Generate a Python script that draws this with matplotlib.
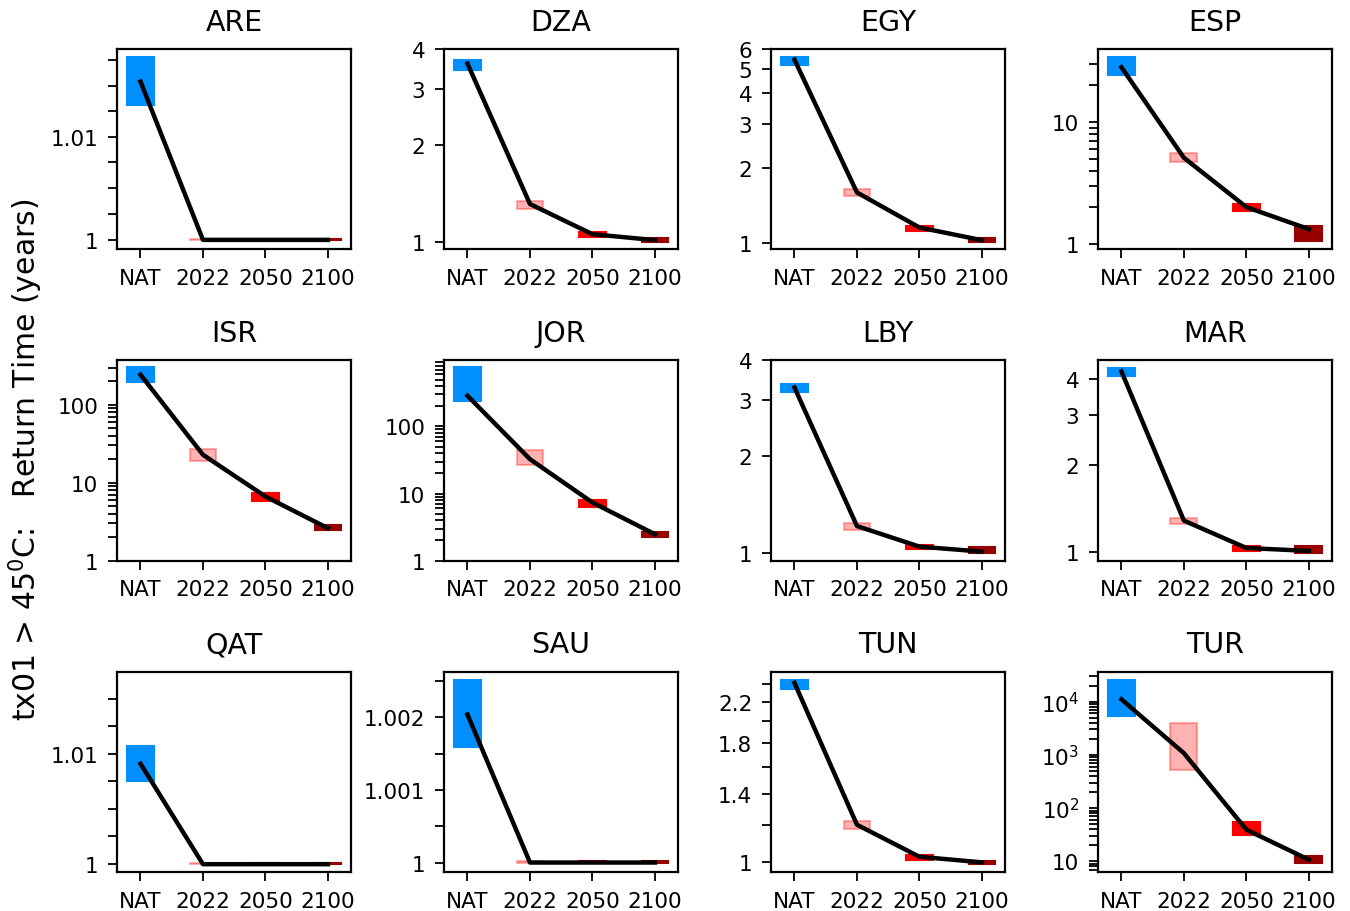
import numpy as np
import matplotlib
matplotlib.use("Agg")
import matplotlib.pyplot as plt
from matplotlib.patches import Rectangle
from matplotlib.ticker import LogLocator, NullFormatter

# 国家 / 时期
countries = ["ARE", "DZA", "EGY", "ESP", "ISR", "JOR", "LBY", "MAR", "QAT", "SAU", "TUN", "TUR"]
periods = ["NAT", "2022", "2050", "2100"]

# 重现期 (years): 最佳估计 / 下界 / 上界
rt_best = [
    [1.0154, 1.0, 1.0, 1.0],
    [3.60, 1.31, 1.054, 1.01],
    [5.44, 1.597, 1.156, 1.028],
    [28.0, 5.09, 2.01, 1.328],
    [243, 22.8, 6.64, 2.60],
    [287, 32.5, 7.34, 2.47],
    [3.29, 1.211, 1.044, 1.007],
    [4.24, 1.288, 1.035, 1.011],
    [1.0091, 1.0, 1.0, 1.0],
    [1.00204, 1.0, 1.0, 1.0],
    [2.415, 1.203, 1.028, 1.0],
    [11070, 1075, 39.2, 10.7],
]
rt_low = [
    [1.0131, 1.0, 1.0, 1.0],
    [3.45, 1.266, 1.032, 0.998],
    [5.16, 1.539, 1.124, 1.012],
    [24.2, 4.72, 1.88, 1.065],
    [194, 18.7, 5.90, 2.48],
    [236, 26.2, 6.40, 2.28],
    [3.173, 1.176, 1.024, 0.995],
    [4.07, 1.251, 1.013, 0.997],
    [1.0075, 1.0, 1.0, 1.0],
    [1.00159, 1.0, 1.0, 1.0],
    [2.342, 1.177, 1.013, 0.993],
    [5465, 523, 31.6, 9.3],
]
rt_high = [
    [1.0178, 1.0001, 1.0001, 1.0001],
    [3.685, 1.335, 1.070, 1.022],
    [5.58, 1.647, 1.177, 1.047],
    [34.2, 5.6, 2.13, 1.397],
    [305, 26.9, 7.33, 2.87],
    [769, 43.8, 8.04, 2.71],
    [3.385, 1.234, 1.056, 1.044],
    [4.35, 1.312, 1.055, 1.052],
    [1.0107, 1.0001, 1.0001, 1.0001],
    [1.00252, 1.00002, 1.00002, 1.00002],
    [2.447, 1.228, 1.037, 1.007],
    [25500, 3925, 54.6, 12.4],
]

# y 轴范围和刻度
ylims = [
    (0.9991, 1.0186), (0.946, 4.0), (0.946, 6.0), (0.91, 39.5),
    (1, 371), (1, 966), (0.944, 3.97), (0.936, 4.63),
    (0.9993, 1.0175), (0.99987, 1.00263), (0.954, 2.55), (6.3, 36500),
]
yticks = [
    [1, 1.01], [1, 2, 3, 4], [1, 2, 3, 4, 5, 6], [1, 10],
    [1, 10, 100], [1, 10, 100], [1, 2, 3, 4], [1, 2, 3, 4],
    [1, 1.01], [1, 1.001, 1.002], [1, 1.4, 1.8, 2.2], [10, 100, 1000, 10000],
]
ytick_labels = [
    ["1", "1.01"], ["1", "2", "3", "4"], ["1", "2", "3", "4", "5", "6"], ["1", "10"],
    ["1", "10", "100"], ["1", "10", "100"], ["1", "2", "3", "4"], ["1", "2", "3", "4"],
    ["1", "1.01"], ["1", "1.001", "1.002"], ["1", "1.4", "1.8", "2.2"],
    ["10", "$10^2$", "$10^3$", "$10^4$"],
]
# None -> 对数次刻度
yminor = [
    [1.0025, 1.005, 1.0075, 1.0125, 1.015, 1.0175], [], [], None,
    None, None, [], [],
    [1.0025, 1.005, 1.0075, 1.0125, 1.015], [1.0005, 1.0015, 1.0025], [1.2, 1.6, 2.0, 2.4], None,
]

colors = ["#008fff", "red", "red", "#990000"]
alphas = [1.0, 0.3, 1.0, 1.0]
box_w = 0.43

fig, axes = plt.subplots(3, 4, figsize=(13.5, 9.12), dpi=100)
fig.subplots_adjust(left=0.0867, right=0.9867, top=0.9452, bottom=0.0428,
                    wspace=0.397, hspace=0.555)

x = np.arange(len(periods))
for i, ax in enumerate(axes.flat):
    for j in range(len(periods)):
        lo, hi = rt_low[i][j], rt_high[i][j]
        ax.add_patch(Rectangle((x[j] - box_w / 2, lo), box_w, hi - lo,
                               facecolor=colors[j], edgecolor=colors[j],
                               alpha=alphas[j], lw=1.5, zorder=2))
    ax.plot(x, rt_best[i], color="black", lw=3.2, zorder=3)
    ax.set_yscale("log")
    ax.set_ylim(ylims[i])
    ax.set_xlim(-0.375, 3.37)
    ax.set_yticks(yticks[i], ytick_labels[i])
    if yminor[i] is None:
        ax.yaxis.set_minor_locator(LogLocator(base=10, subs=np.arange(2, 10)))
    else:
        ax.set_yticks(yminor[i], minor=True)
    ax.yaxis.set_minor_formatter(NullFormatter())
    ax.set_xticks(x, periods)
    ax.set_title(countries[i], fontsize=20.5, pad=14)
    ax.tick_params(which="both", length=6.5, width=1.3, labelsize=15.5, pad=7)
    for s in ax.spines.values():
        s.set_linewidth(1.6)

fig.text(0.019, 0.496, "tx01 > 45$^0$C:   Return Time (years)", rotation=90,
         ha="center", va="center", fontsize=21.5)

plt.savefig("out.png", dpi=100)
